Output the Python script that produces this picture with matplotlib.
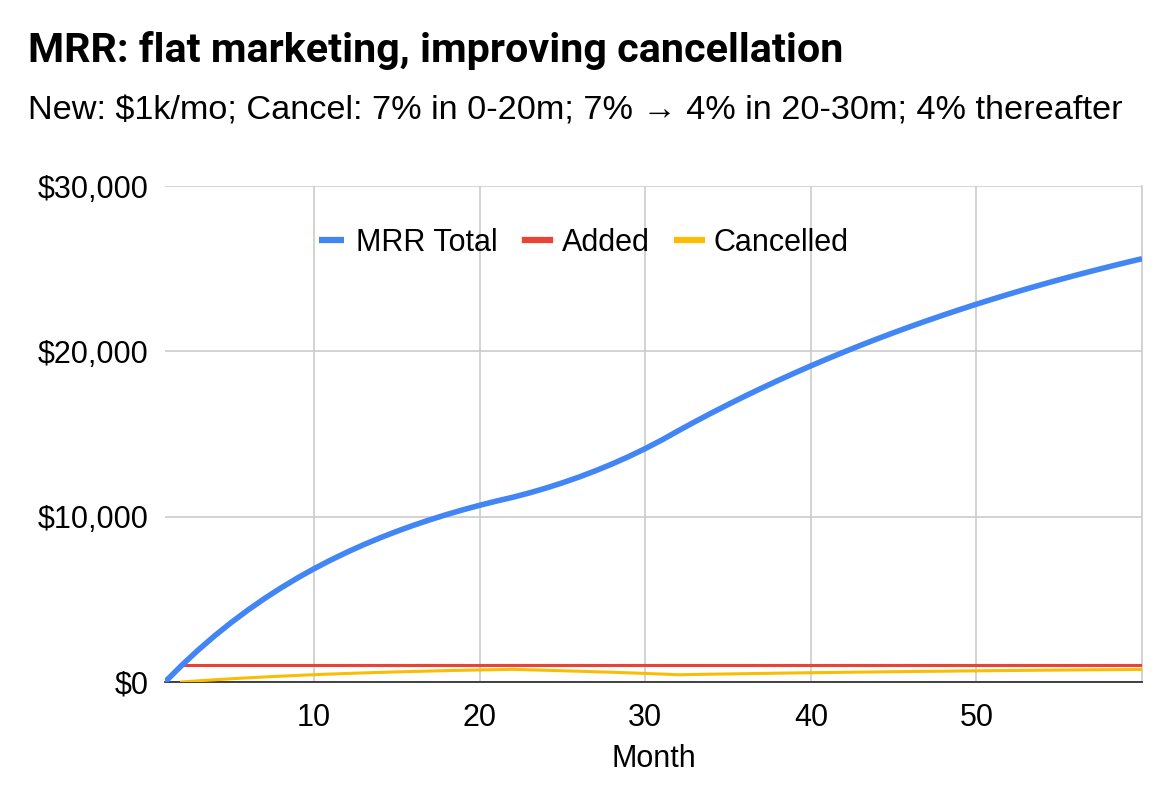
import numpy as np
import matplotlib.pyplot as plt
from matplotlib.ticker import FuncFormatter

# months on the x axis
months = list(range(1, 61))

# MRR total (dollars)
mrr_total = [0, 1000, 1930, 2795, 3599, 4347, 5043, 5690, 6292, 6851,
             7372, 7856, 8306, 8724, 9114, 9476, 9812, 10126, 10417, 10688,
             10939, 11173, 11436, 11727, 12047, 12396, 12776, 13188, 13634, 14116,
             14636, 15197, 15741, 16269, 16781, 17278, 17760, 18227, 18680, 19120,
             19546, 19960, 20361, 20750, 21127, 21493, 21848, 22193, 22527, 22851,
             23165, 23470, 23766, 24053, 24331, 24601, 24863, 25117, 25363, 25602]

# added and cancelled start at month 2
added = [np.nan] + [1000] * 59
cancelled = [np.nan, 0, 70, 135, 196, 252, 304, 353, 398, 440,
             480, 516, 550, 581, 611, 638, 663, 687, 709, 729,
             748, 766, 737, 709, 680, 651, 620, 588, 554, 518,
             480, 439, 456, 472, 488, 503, 518, 533, 547, 560,
             574, 586, 599, 611, 623, 634, 645, 655, 666, 676,
             686, 695, 704, 713, 722, 730, 738, 746, 754, 761]

x_ticks = [10, 20, 30, 40, 50]
y_ticks = [0, 10000, 20000, 30000]

plt.rcParams['font.family'] = ['Liberation Sans', 'DejaVu Sans']

fig = plt.figure(figsize=(11.74, 7.96), dpi=100)
ax = fig.add_axes([165 / 1174, 1 - 682 / 796, (1142 - 165) / 1174, (682 - 186) / 796])

ax.plot(months, mrr_total, color='#4285F4', lw=4.0, label='MRR Total', solid_capstyle='butt', zorder=4)
ax.plot(months, added, color='#EA4335', lw=2.2, label='Added', zorder=3)
ax.plot(months, cancelled, color='#FBBC04', lw=2.2, label='Cancelled', zorder=3)

ax.set_xlim(1, 60)
ax.set_ylim(0, 30000)
ax.set_xticks(x_ticks)
ax.set_yticks(y_ticks)
ax.yaxis.set_major_formatter(FuncFormatter(lambda v, p: '${:,.0f}'.format(v)))
ax.tick_params(length=0, labelsize=22, colors='#000000')
ax.tick_params(axis='x', pad=15)
ax.tick_params(axis='y', pad=12)
ax.grid(True, color='#cccccc', lw=1.2)
ax.set_axisbelow(True)

for s in ['left', 'top']:
    ax.spines[s].set_visible(False)
ax.spines['right'].set_color('#cccccc')
ax.spines['right'].set_linewidth(1.2)
ax.spines['bottom'].set_color('#333333')
ax.spines['bottom'].set_linewidth(1.3)

ax.set_xlabel('Month', fontsize=22, labelpad=8)

leg = ax.legend(loc='center', bbox_to_anchor=(0.429, 0.885), ncol=3, frameon=False,
                fontsize=22, handlelength=0.8, handletextpad=0.4, columnspacing=0.9)
for h in leg.get_lines():
    h.set_linewidth(4.5)

fig.text(28 / 1174, 1 - 62 / 796, 'MRR: flat marketing, improving cancellation',
         fontsize=29.7, fontweight='bold', family=['Roboto', 'DejaVu Sans'], va='baseline')
fig.text(28 / 1174, 1 - 120 / 796,
         'New: $1k/mo; Cancel: 7% in 0-20m; 7% \u2192 4% in 20-30m; 4% thereafter',
         fontsize=24.7, va='baseline')

fig.savefig('out.png', dpi=100)
